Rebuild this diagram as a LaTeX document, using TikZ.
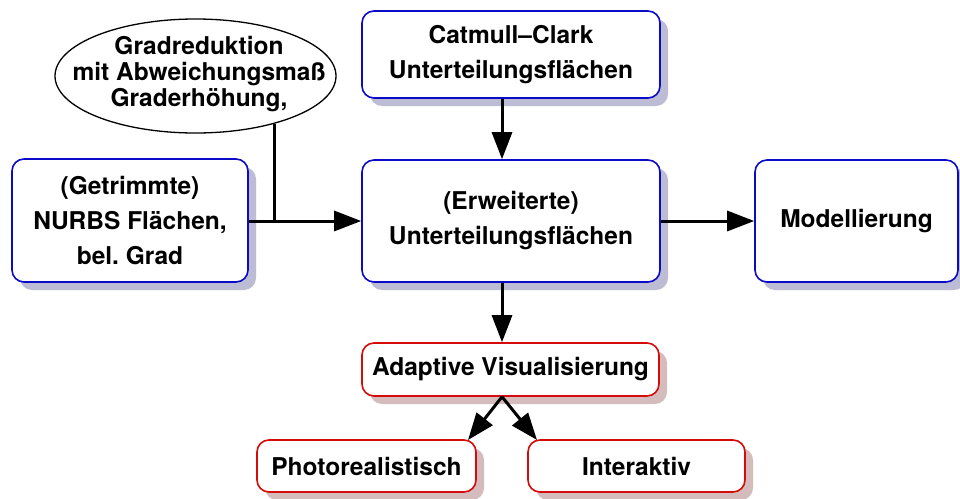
\documentclass[tikz,border=0pt]{standalone}
\usepackage{fontspec}
\setmainfont{TeX Gyre Heros}
\usetikzlibrary{shapes.geometric,arrows.meta,shadows}
\frenchspacing
\definecolor{bbord}{RGB}{10,10,200}
\definecolor{rbord}{RGB}{215,10,10}
\definecolor{bshad}{RGB}{188,188,212}
\definecolor{rshad}{RGB}{212,188,188}
\tikzset{
  txt/.style={font=\fontsize{24.5}{35}\selectfont\bfseries, align=center, inner sep=0pt},
  bbox/.style={txt, draw=bbord, line width=1.6pt, fill=white, rounded corners=12pt,
    drop shadow={shadow xshift=8pt, shadow yshift=-8pt, fill=bshad, opacity=1}},
  rbox/.style={txt, draw=rbord, line width=1.6pt, fill=white, rounded corners=12pt,
    drop shadow={shadow xshift=8pt, shadow yshift=-8pt, fill=rshad, opacity=1}},
  ellshape/.style={draw=black, line width=1.3pt, ellipse, fill=white, inner sep=0pt},
  elltxt/.style={txt, font=\fontsize{24.5}{26}\selectfont\bfseries},
  conn/.style={line width=3pt, -{Triangle[length=27pt,width=20pt]}},
  plain/.style={line width=3pt}
}
\begin{document}
\begin{tikzpicture}[x=1pt,y=-1pt]
\useasboundingbox[fill=white] (0,0) rectangle (960,498);
\node[ellshape, minimum width=281pt, minimum height=114pt] (ellipse) at (195.5,76) {};
\node[elltxt] (elltext) at (199,74) {Gradreduktion\\mit Abweichungsmaß\\Graderhöhung,};
\node[bbox, minimum width=236pt, minimum height=123pt] (get) at (130,220.5) {(Getrimmte)\\NURBS Flächen,\\bel. Grad};
\node[bbox, minimum width=298pt, minimum height=87pt] (cat) at (511,54.5) {Catmull--Clark\\Unterteilungsflächen};
\node[bbox, minimum width=298pt, minimum height=122pt] (erw) at (511,221) {(Erweiterte)\\Unterteilungsflächen};
\node[bbox, minimum width=203pt, minimum height=122pt] (mod) at (856.5,221) {Modellierung};
\node[rbox, minimum width=297pt, minimum height=53pt] (ada) at (510.5,369.5) {Adaptive Visualisierung};
\node[rbox, minimum width=219pt, minimum height=52pt] (pho) at (366.5,466) {Photorealistisch};
\node[rbox, minimum width=217pt, minimum height=52pt] (int) at (636.5,466) {Interaktiv};
\coordinate (ax) at (502,0);
\coordinate (jn) at (274,221);
\coordinate (pt) at (468,440);
\coordinate (it) at (537,440);
\draw[plain] (ellipse.-31) -- (ellipse.-31 |- jn);
\draw[conn] (get.east |- jn) -- (erw.west |- jn);
\draw[conn] (cat.south -| ax) -- (erw.north -| ax);
\draw[conn] (erw.east |- jn) -- (mod.west |- jn);
\draw[conn] (erw.south -| ax) -- (ada.north -| ax);
\draw[conn] (ada.south -| ax) -- (pt);
\draw[conn] (ada.south -| ax) -- (it);
\end{tikzpicture}
\end{document}
